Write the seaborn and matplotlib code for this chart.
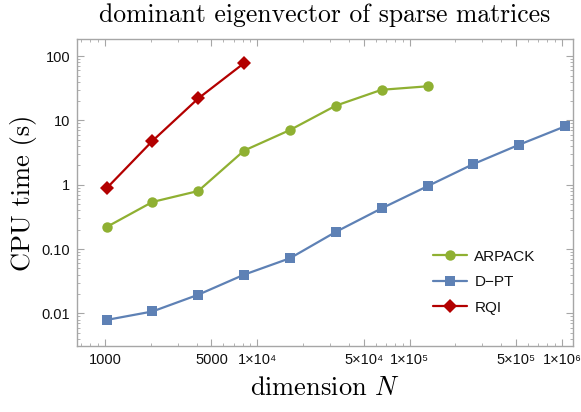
import matplotlib
matplotlib.use("Agg")
import matplotlib.pyplot as plt
import matplotlib.ticker as mticker
import seaborn as sns
import pandas as pd

# Datos (N = 2^10 ... 2^20)
n_dpt = [1024, 2048, 4096, 8192, 16384, 32768, 65536, 131072, 262144, 524288, 1048576]
t_dpt = [0.0079, 0.0107, 0.0195, 0.040, 0.072, 0.185, 0.43, 0.95, 2.1, 4.2, 8.1]

n_arpack = [1024, 2048, 4096, 8192, 16384, 32768, 65536, 131072]
t_arpack = [0.22, 0.54, 0.80, 3.4, 7.1, 17.0, 30.0, 34.0]

n_rqi = [1024, 2048, 4096, 8192]
t_rqi = [0.88, 4.8, 22.0, 78.0]

methods = ["ARPACK", "D\u2212PT", "RQI"]
colors = ["#8FB032", "#5E81B5", "#B30000"]
marker_styles = ["o", "s", "D"]

x_ticks = [1000, 5000, 1e4, 5e4, 1e5, 5e5, 1e6]
x_tick_labels = ["1000", "5000", "1×10⁴", "5×10⁴", "1×10⁵", "5×10⁵", "1×10⁶"]
y_ticks = [0.01, 0.1, 1, 10, 100]
y_tick_labels = ["0.01", "0.10", "1", "10", "100"]

df = pd.concat([
    pd.DataFrame({"N": n_arpack, "t": t_arpack, "method": methods[0]}),
    pd.DataFrame({"N": n_dpt, "t": t_dpt, "method": methods[1]}),
    pd.DataFrame({"N": n_rqi, "t": t_rqi, "method": methods[2]}),
], ignore_index=True)

sns.set_style("ticks")
plt.rcParams["mathtext.fontset"] = "cm"
sans = ["Liberation Sans", "DejaVu Sans"]

fig, ax = plt.subplots(figsize=(5.81, 4.12), dpi=100)
fig.subplots_adjust(left=0.1325, right=0.986, bottom=0.160, top=0.905)

sns.lineplot(
    data=df, x="N", y="t", hue="method", style="method",
    hue_order=methods, style_order=methods,
    palette=dict(zip(methods, colors)),
    markers=dict(zip(methods, marker_styles)), dashes=False,
    linewidth=1.6, markersize=7.5, markeredgewidth=0, ax=ax,
)

ax.set_xscale("log")
ax.set_yscale("log")
ax.set_xlim(655, 1.18e6)
ax.set_ylim(0.0031, 184)

ax.xaxis.set_major_locator(mticker.FixedLocator(x_ticks))
ax.xaxis.set_major_formatter(mticker.FixedFormatter(x_tick_labels))
ax.yaxis.set_major_locator(mticker.FixedLocator(y_ticks))
ax.yaxis.set_major_formatter(mticker.FixedFormatter(y_tick_labels))
ax.xaxis.set_minor_locator(mticker.LogLocator(base=10, subs=range(1, 10), numticks=20))
ax.yaxis.set_minor_locator(mticker.LogLocator(base=10, subs=range(1, 10), numticks=20))
ax.xaxis.set_minor_formatter(mticker.NullFormatter())
ax.yaxis.set_minor_formatter(mticker.NullFormatter())

grey = "#a6a6a6"
for side in ax.spines.values():
    side.set_color(grey)
    side.set_linewidth(1.0)
ax.tick_params(which="both", direction="in", top=True, right=True, color=grey)
ax.tick_params(which="major", length=5, width=0.8, labelsize=10.5, pad=5, labelcolor="#111111")
ax.tick_params(which="minor", length=2.5, width=0.6)
for lab in ax.get_xticklabels() + ax.get_yticklabels():
    lab.set_family(sans)

ax.set_title("dominant eigenvector of sparse matrices", family="cmr10", fontsize=18.5,
             pad=12, color="black")
ax.set_ylabel("CPU time (s)", family="cmr10", fontsize=19, labelpad=3, color="black")
ax.set_xlabel("dimension $N$", family="cmr10", fontsize=19, labelpad=7, color="black")

handles, labels = ax.get_legend_handles_labels()
leg = ax.legend(handles, labels, loc="center left", bbox_to_anchor=(0.718, 0.208),
                frameon=False, borderpad=0, borderaxespad=0, handlelength=2.2,
                handletextpad=0.5, labelspacing=0.75,
                prop={"family": sans, "size": 11})
for txt in leg.get_texts():
    txt.set_color("#111111")

plt.savefig("out.png", dpi=100)
